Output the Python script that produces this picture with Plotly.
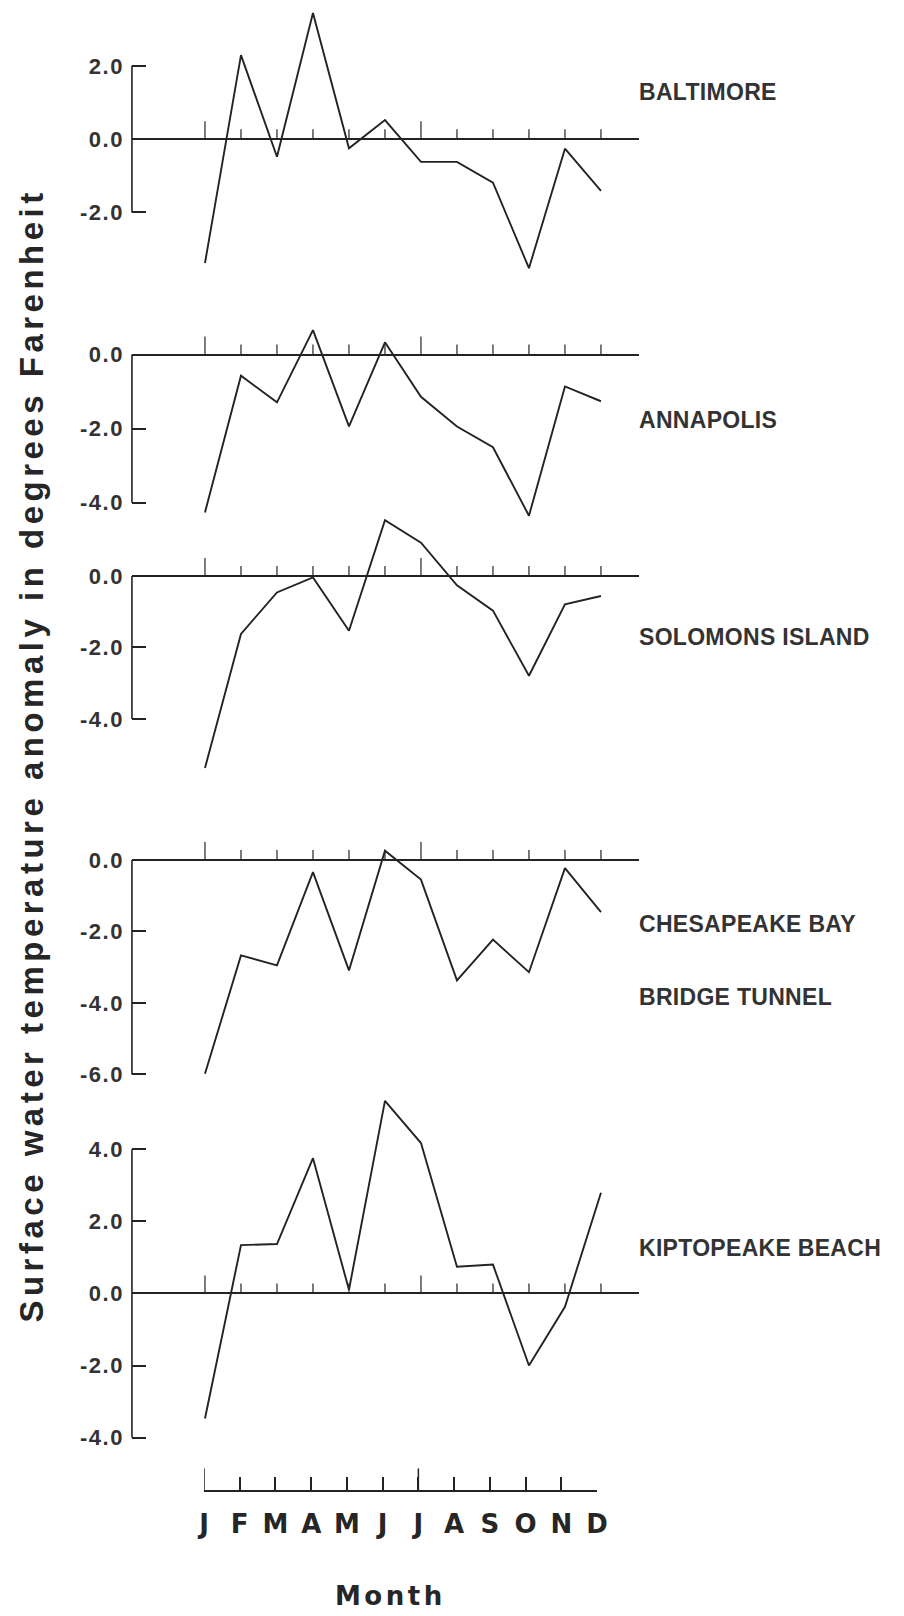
import plotly.graph_objects as go

# ---------------- data ----------------
months = ["J", "F", "M", "A", "M", "J", "J", "A", "S", "O", "N", "D"]
month_num = list(range(1, 13))

baltimore = [-3.38, 2.29, -0.48, 3.44, -0.25, 0.52, -0.62, -0.62, -1.19, -3.52, -0.26, -1.41]
annapolis = [-4.26, -0.57, -1.29, 0.66, -1.94, 0.33, -1.14, -1.94, -2.50, -4.35, -0.86, -1.26]
solomons = [-5.37, -1.62, -0.46, -0.04, -1.53, 1.56, 0.93, -0.26, -0.97, -2.79, -0.79, -0.56]
cbbt = [-5.98, -2.67, -2.95, -0.34, -3.09, 0.26, -0.55, -3.37, -2.23, -3.14, -0.23, -1.46]
kiptopeake = [-3.47, 1.34, 1.37, 3.75, 0.10, 5.34, 4.17, 0.74, 0.80, -2.00, -0.37, 2.79]

baltimore_ticks = [2.0, 0.0, -2.0]
annapolis_ticks = [0.0, -2.0, -4.0]
solomons_ticks = [0.0, -2.0, -4.0]
cbbt_ticks = [0.0, -2.0, -4.0, -6.0]
kiptopeake_ticks = [4.0, 2.0, 0.0, -2.0, -4.0]

baltimore_label = ["BALTIMORE"]
annapolis_label = ["ANNAPOLIS"]
solomons_label = ["SOLOMONS ISLAND"]
cbbt_label = ["CHESAPEAKE BAY", "BRIDGE TUNNEL"]
kiptopeake_label = ["KIPTOPEAKE BEACH"]

y_title = "Surface water temperature anomaly in degrees Farenheit"
x_title = "Month"

# ---------------- layout (pixels) ----------------
W, H = 904, 1616
INK = "#232323"

def py(p):
    return 1 - p / H

def px(p):
    return p / W

panels = [
    dict(values=baltimore, ticks=baltimore_ticks, label=baltimore_label,
         zero=139.3, k=36.7, top=0, bot=310, label_y=[92]),
    dict(values=annapolis, ticks=annapolis_ticks, label=annapolis_label,
         zero=355.0, k=37.1, top=300, bot=530, label_y=[421]),
    dict(values=solomons, ticks=solomons_ticks, label=solomons_label,
         zero=576.7, k=35.8, top=505, bot=790, label_y=[638]),
    dict(values=cbbt, ticks=cbbt_ticks, label=cbbt_label,
         zero=861.0, k=35.8, top=835, bot=1090, label_y=[925, 998]),
    dict(values=kiptopeake, ticks=kiptopeake_ticks, label=kiptopeake_label,
         zero=1295.0, k=36.1, top=1085, bot=1450, label_y=[1250]),
]

AX_LEFT, AX_RIGHT = 127.5, 645     # y-axis position and end of zero line
M1_PX, M_STEP = 202, 36.73         # pixel of January, pixels per month
x_range = [1 + (AX_LEFT - M1_PX) / M_STEP, 1 + (AX_RIGHT - M1_PX) / M_STEP]

tick_font = dict(family="Liberation Sans", size=22, color="#333333", weight="bold")
label_font = dict(family="Liberation Sans", size=23, color="#333333", weight="bold")


def names(i):
    s = "" if i == 1 else str(i)
    return "x" + s, "y" + s, "xaxis" + s, "yaxis" + s


fig = go.Figure()
layout = dict(
    width=W, height=H,
    margin=dict(l=0, r=0, t=0, b=0),
    paper_bgcolor="white", plot_bgcolor="rgba(0,0,0,0)",
    showlegend=False,
)
annotations = []
shapes = []

for i, p in enumerate(panels, start=1):
    xa, ya, xkey, ykey = names(i)
    k = p["k"]
    # data line
    fig.add_trace(go.Scatter(x=month_num, y=p["values"], mode="lines",
                             line=dict(color=INK, width=1.9),
                             xaxis=xa, yaxis=ya, hoverinfo="skip"))
    # month tick marks on the zero line
    tx, ty = [], []
    for j, m in enumerate(month_num):
        h = (18 if j in (0, 6) else 10) / k
        tx += [m, m, None]
        ty += [0, h, None]
    fig.add_trace(go.Scatter(x=tx, y=ty, mode="lines",
                             line=dict(color=INK, width=1.2),
                             xaxis=xa, yaxis=ya, hoverinfo="skip"))
    layout[xkey] = dict(domain=[px(AX_LEFT), px(AX_RIGHT)], range=x_range,
                        anchor=ya, visible=False, fixedrange=True)
    layout[ykey] = dict(
        domain=[py(p["bot"]), py(p["top"])],
        range=[(p["zero"] - p["bot"]) / k, (p["zero"] - p["top"]) / k],
        anchor=xa, showgrid=False, showline=False,
        zeroline=True, zerolinecolor=INK, zerolinewidth=2.2,
        tickmode="array", tickvals=p["ticks"],
        ticktext=["<span style='letter-spacing:1.5px'>%s</span>" % ("%.1f" % v)
                  for v in p["ticks"]],
        ticks="inside", ticklen=14, tickwidth=2.4, tickcolor=INK,
        tickfont=tick_font, ticklabelstandoff=7, fixedrange=True,
    )
    shapes.append(dict(type="line", xref=f"{xa} domain", yref=ya,
                       x0=0, x1=0, y0=min(p["ticks"]), y1=max(p["ticks"]),
                       line=dict(color=INK, width=1.6), layer="above"))
    for txt, ly in zip(p["label"], p["label_y"]):
        annotations.append(dict(
            text="<span style='letter-spacing:0.3px'>%s</span>" % txt,
            xref="paper", yref="paper", x=px(643), y=py(ly),
            xanchor="left", yanchor="middle", showarrow=False, font=label_font))

# bottom month axis
xa, ya, xkey, ykey = names(len(panels) + 1)
fig.add_trace(go.Scatter(x=[1, 1, None, 7, 7], y=[0, 1, None, 0, 1], mode="lines",
                         line=dict(color=INK, width=1.5),
                         xaxis=xa, yaxis=ya, hoverinfo="skip"))
layout[xkey] = dict(
    domain=[px(201), px(602)], range=[1, 12], anchor=ya,
    showline=True, linecolor=INK, linewidth=1.6, showgrid=False, zeroline=False,
    tickmode="array", tickvals=month_num, ticktext=months,
    ticks="inside", ticklen=13, tickwidth=1.5, tickcolor=INK,
    tickfont=dict(family="DejaVu Sans", size=26, color="#262626", weight="bold"),
    ticklabelstandoff=10, fixedrange=True,
)
layout[ykey] = dict(domain=[py(1492), py(1470)], range=[0, 1],
                    anchor=xa, visible=False, fixedrange=True)

annotations.append(dict(
    text="<span style='letter-spacing:4.5px'>%s</span>" % y_title,
    xref="paper", yref="paper", x=px(25), y=py(757), textangle=-90,
    xanchor="center", yanchor="middle", showarrow=False,
    font=dict(family="Liberation Sans", size=33, color="#262626", weight="bold")))
annotations.append(dict(
    text="<span style='letter-spacing:3.5px'>%s</span>" % x_title,
    xref="paper", yref="paper", x=px(391), y=py(1598),
    xanchor="center", yanchor="middle", showarrow=False,
    font=dict(family="DejaVu Sans", size=26, color="#262626", weight="bold")))

layout["annotations"] = annotations
layout["shapes"] = shapes
fig.update_layout(**layout)

fig.write_html("out.html", config={"displayModeBar": False},
               post_script="document.body.style.margin='0';")
